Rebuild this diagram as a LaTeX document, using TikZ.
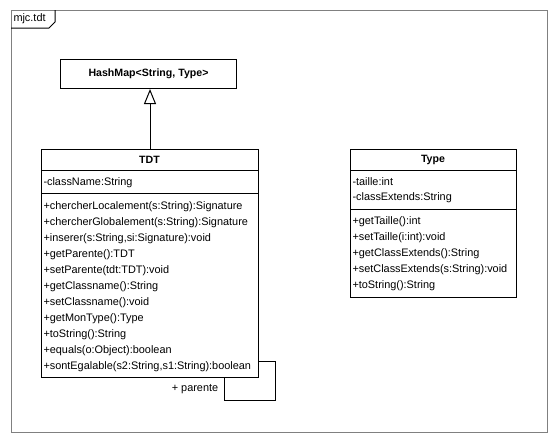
\documentclass[tikz,border=0pt]{standalone}
\usepackage{fontspec}
\setmainfont{Liberation Sans}
\usetikzlibrary{arrows.meta}

\begin{document}
\begin{tikzpicture}[x=1pt,y=-1pt,line width=1pt,
  classbox/.style={draw,anchor=north west,inner sep=0pt},
  member/.style={anchor=west,inner sep=0pt,font=\fontsize{10.9}{12}\selectfont},
  title/.style={inner sep=0pt,font=\fontsize{10.6}{12}\selectfont\bfseries}]

\useasboundingbox (0,0) rectangle (557,442);

% frame and tab
\draw [gray] (11,10) rectangle (547,432);
\draw (11,28) -- (49,28) -- (55,22) -- (55,10);
\node [member] (tab) at (13,19) {mjc.tdt};

% HashMap
\node [classbox, title, minimum width=176pt, minimum height=29pt] (hashmap) at (60,59) {HashMap<String, Type>};

% TDT
\node [classbox, minimum width=217pt, minimum height=228pt] (tdt) at (41,149) {};
\node [title] (tdtname) at (149.5,160) {TDT};
\draw (41,170) -- (258,170);
\node [member] (tdtattr) at (43,183) {-className:String};
\draw (41,193) -- (258,193);
\foreach \txt [count=\i] in {{+chercherLocalement(s:String):Signature},
  {+chercherGlobalement(s:String):Signature},
  {+inserer(s:String,si:Signature):void},
  {+getParente():TDT},
  {+setParente(tdt:TDT):void},
  {+getClassname():String},
  {+setClassname():void},
  {+getMonType():Type},
  {+toString():String},
  {+equals(o:Object):boolean},
  {+sontEgalable(s2:String,s1:String):boolean}}
  \node [member] (tdtop\i) at (43,{191+16*\i}) {\txt};

% Type
\node [classbox, minimum width=166pt, minimum height=148pt] (type) at (350,149) {};
\node [title] (typename) at (433,160) {Type};
\draw (350,170) -- (516,170);
\node [member] (typeattr1) at (352,182) {-taille:int};
\node [member] (typeattr2) at (352,198) {-classExtends:String};
\draw (350,209) -- (516,209);
\foreach \txt [count=\i] in {{+getTaille():int},
  {+setTaille(i:int):void},
  {+getClassExtends():String},
  {+setClassExtends(s:String):void},
  {+toString():String}}
  \node [member] (typeop\i) at (352,{206+16*\i}) {\txt};

% inheritance
\draw [-{Triangle[open, width=12pt, length=15pt]}] (tdt.north) -- (tdt.north |- hashmap.south);

% self association
\coordinate (loopa) at (275,361);
\coordinate (loopb) at (224,400);
\draw (tdt.east |- loopa) -- (loopa) |- (loopb) -- (loopb |- tdt.south);
\node [member, anchor=center] (parente) at (195,389) {+ parente};

\end{tikzpicture}
\end{document}
